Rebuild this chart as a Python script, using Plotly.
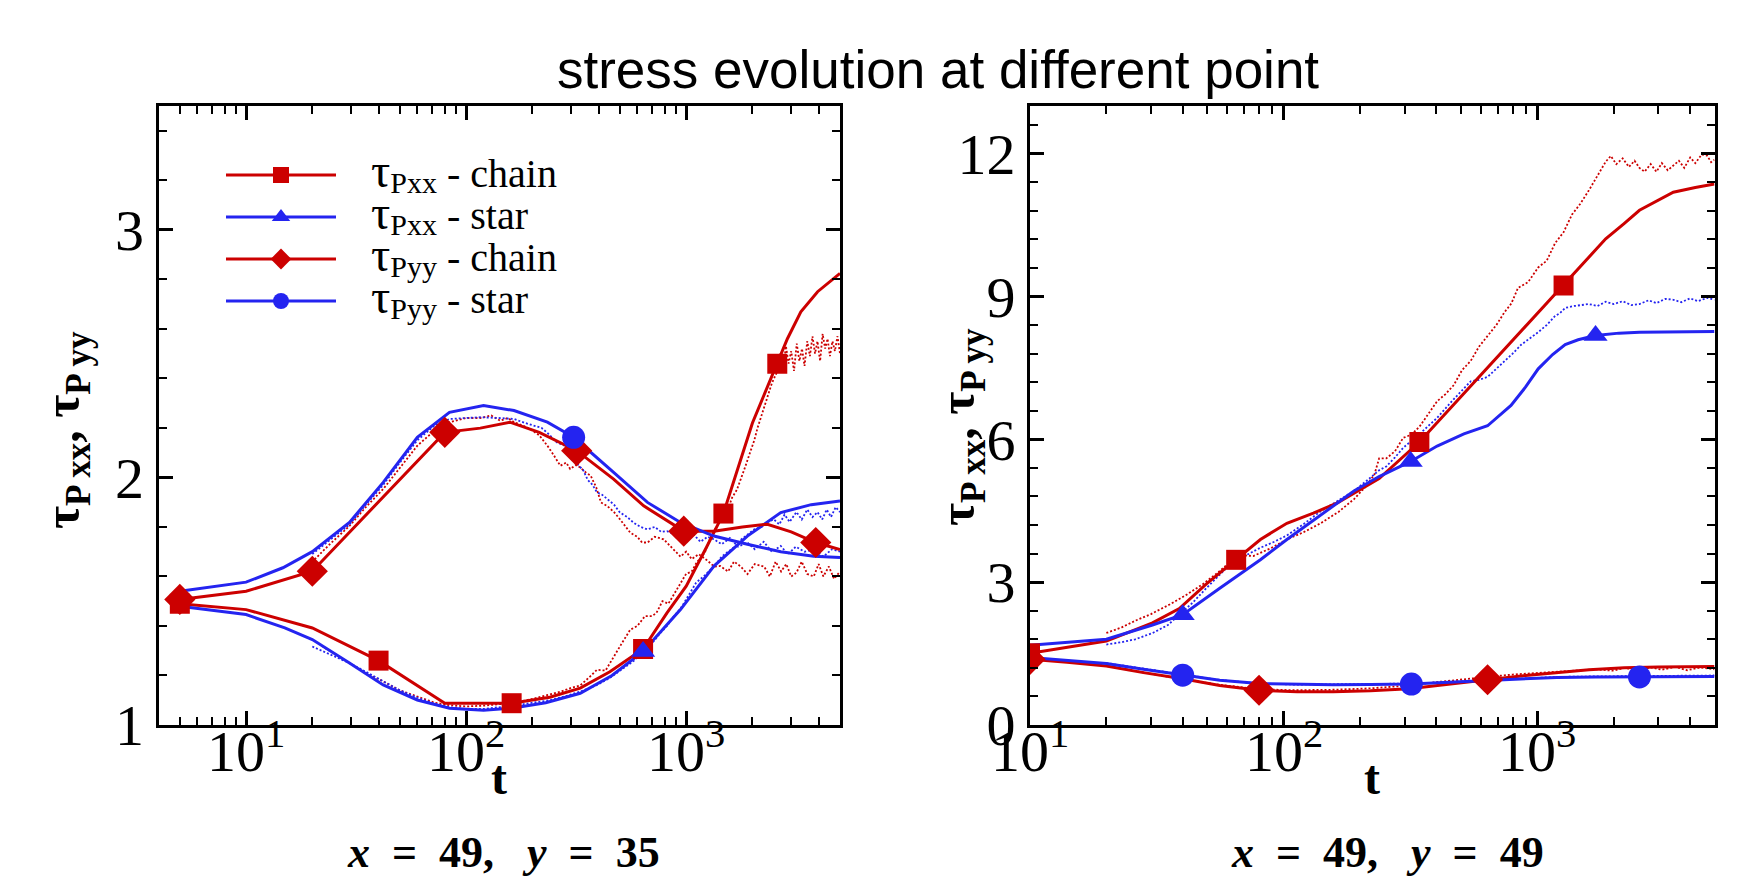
import numpy as np
import plotly.graph_objects as go

W, H = 1740, 877
RED = "#cc0000"
BLUE = "#2424f0"
SERIF = "Liberation Serif"
SANS = "Liberation Sans"

# ---------------- Left panel (x = 49, y = 35) ----------------
# solid curves
L_T_XX_CHAIN = [5, 10, 20, 40, 80, 161, 240, 330, 450, 637, 818, 1000, 1245, 1476, 2000, 2594, 2884, 3319, 3955, 5000]
L_Y_XX_CHAIN = [1.49, 1.466, 1.392, 1.26, 1.088, 1.088, 1.112, 1.149, 1.215, 1.307, 1.453, 1.561, 1.723, 1.854, 2.22, 2.459, 2.56, 2.669, 2.75, 2.824]
L_M_XX_CHAIN = [5, 40, 161, 637, 1476, 2594]

L_T_XX_STAR = [5, 10, 15, 20, 29.5, 42, 60, 84, 120, 161, 230, 330, 460, 637, 942, 1337, 1897, 2690, 3700, 5000]
L_Y_XX_STAR = [1.48, 1.446, 1.392, 1.345, 1.25, 1.162, 1.101, 1.068, 1.06, 1.068, 1.09, 1.128, 1.20, 1.297, 1.466, 1.642, 1.763, 1.858, 1.89, 1.905]
L_M_XX_STAR = [637]

L_T_YY_CHAIN = [5, 10, 20, 80, 116, 158, 215, 318, 468, 641, 975, 1337, 1800, 2340, 3000, 3880, 5000]
L_Y_YY_CHAIN = [1.507, 1.54, 1.621, 2.182, 2.199, 2.223, 2.182, 2.108, 1.993, 1.885, 1.783, 1.783, 1.80, 1.811, 1.78, 1.737, 1.709]
L_M_YY_CHAIN = [5, 20, 80, 318, 975, 3880]

L_T_YY_STAR = [5, 10, 14.7, 20, 29.5, 42, 60, 84, 120, 165, 234, 308, 468, 667, 942, 1337, 1897, 2690, 3800, 5000]
L_Y_YY_STAR = [1.54, 1.577, 1.635, 1.70, 1.818, 1.98, 2.162, 2.263, 2.29, 2.27, 2.223, 2.162, 2.02, 1.899, 1.818, 1.763, 1.73, 1.70, 1.682, 1.676]
L_M_YY_STAR = [308]

# dotted (noisy) curves
LD_T_XX_CHAIN = [22, 26, 30, 35, 42, 50, 60, 72, 84, 100, 120, 145, 165, 200, 234, 270, 300, 330, 360, 393,
                 430, 470, 510, 557, 600, 650, 700, 733, 780, 830, 889, 940, 1000, 1060, 1120, 1156, 1220, 1280,
                 1350, 1420, 1480, 1543, 1620, 1700, 1770, 1850, 1950, 2040, 2110, 2200, 2340, 2450,
                 2600, 2680, 2760, 2840, 2920, 3000, 3090, 3180, 3270, 3360, 3450, 3550, 3650, 3750, 3850,
                 3950, 4060, 4170, 4280, 4390, 4500, 4620, 4740, 4870, 5000]
LD_Y_XX_CHAIN = [1.32, 1.28, 1.245, 1.21, 1.176, 1.14, 1.115, 1.09, 1.08, 1.075, 1.078, 1.085, 1.09, 1.105, 1.12,
                 1.135, 1.15, 1.16, 1.19, 1.223, 1.22, 1.28, 1.33, 1.385, 1.40, 1.44, 1.44, 1.453, 1.50, 1.49,
                 1.534, 1.57, 1.611, 1.62, 1.66, 1.669, 1.70, 1.75, 1.79, 1.82, 1.85, 1.87, 1.92, 1.95, 1.99,
                 2.04, 2.10, 2.15, 2.20, 2.25, 2.33, 2.38,
                 2.43, 2.50, 2.44, 2.53, 2.46, 2.51, 2.43, 2.54, 2.47, 2.52, 2.45, 2.55, 2.49, 2.57, 2.50,
                 2.55, 2.47, 2.58, 2.52, 2.56, 2.49, 2.55, 2.51, 2.57, 2.50]

LD_T_XX_STAR = [20, 24, 29.5, 35, 42, 50, 60, 72, 84, 100, 120, 140, 165, 200, 240, 280, 330, 390, 450, 520,
                580, 637, 700, 760, 818, 880, 942, 1020, 1110, 1200, 1337, 1450, 1560, 1660, 1780, 1900, 2040,
                2200, 2350, 2506, 2650, 2800, 2950, 3170, 3350, 3550, 3750, 3950, 4150, 4350, 4550, 4780, 5000]
LD_Y_XX_STAR = [1.317, 1.285, 1.25, 1.215, 1.176, 1.14, 1.11, 1.085, 1.072, 1.065, 1.065, 1.07, 1.078, 1.09, 1.10,
                1.115, 1.135, 1.16, 1.19, 1.23, 1.26, 1.30, 1.33, 1.37, 1.40, 1.44, 1.47, 1.52, 1.575, 1.60,
                1.64, 1.68, 1.70, 1.72, 1.75, 1.77, 1.79, 1.80, 1.82, 1.83, 1.81, 1.85, 1.82, 1.86, 1.83,
                1.87, 1.84, 1.86, 1.83, 1.87, 1.84, 1.88, 1.86]

LD_T_YY_CHAIN = [20.5, 24, 29.5, 35, 42, 50, 60, 72, 84, 100, 116, 130, 143, 155, 165, 180, 195, 215, 234, 250,
                 268, 285, 297, 315, 330, 350, 368, 390, 410, 437, 470, 500, 530, 557, 600, 630, 667, 720, 790,
                 850, 942, 1000, 1060, 1140, 1245, 1340, 1428, 1550, 1650, 1770, 1900, 2050, 2260, 2400, 2550,
                 2700, 2850, 3000, 3170, 3350, 3550, 3800, 4000, 4200, 4450, 4700, 5000]
LD_Y_YY_CHAIN = [1.669, 1.73, 1.804, 1.88, 1.953, 2.04, 2.128, 2.19, 2.223, 2.24, 2.24, 2.25, 2.229, 2.24, 2.223,
                 2.21, 2.196, 2.17, 2.128, 2.09, 2.047, 2.06, 2.034, 2.05, 2.04, 2.02, 2.007, 1.96, 1.899, 1.885,
                 1.86, 1.831, 1.80, 1.777, 1.76, 1.737, 1.737, 1.76, 1.75, 1.72, 1.68, 1.70, 1.67, 1.69, 1.665,
                 1.64, 1.642, 1.62, 1.66, 1.64, 1.61, 1.65, 1.64, 1.60, 1.66, 1.62, 1.65, 1.60, 1.615, 1.66,
                 1.61, 1.60, 1.65, 1.60, 1.64, 1.59, 1.62]

LD_T_YY_STAR = [20, 24, 29.5, 35, 42, 50, 60, 72, 84, 100, 116, 140, 165, 185, 203, 220, 234, 258, 280, 315,
                340, 357, 375, 393, 415, 437, 470, 500, 540, 575, 620, 667, 720, 770, 818, 880, 940, 1000, 1080,
                1160, 1250, 1337, 1450, 1580, 1720, 1897, 2050, 2250, 2450, 2690, 2900, 3150, 3450, 3800, 4200,
                4600, 5000]
LD_Y_YY_STAR = [1.69, 1.745, 1.81, 1.89, 1.97, 2.06, 2.15, 2.21, 2.236, 2.24, 2.243, 2.24, 2.236, 2.22, 2.209,
                2.20, 2.18, 2.142, 2.128, 2.06, 2.03, 1.99, 1.97, 1.94, 1.93, 1.913, 1.89, 1.858, 1.84, 1.818,
                1.80, 1.79, 1.80, 1.78, 1.783, 1.77, 1.79, 1.763, 1.77, 1.74, 1.76, 1.75, 1.73, 1.755, 1.72,
                1.737, 1.71, 1.74, 1.70, 1.723, 1.69, 1.72, 1.70, 1.709, 1.68, 1.71, 1.70]

# ---------------- Right panel (x = 49, y = 49) ----------------
R_T_XX_CHAIN = [10, 20, 30.4, 38.8, 49.5, 65, 81, 103, 131, 163, 238, 343, 547, 866, 1270, 1600, 1862, 2200, 2530, 3440, 4200, 5000]
R_Y_XX_CHAIN = [1.506, 1.762, 2.146, 2.445, 2.957, 3.469, 3.896, 4.237, 4.45, 4.663, 5.175, 5.943, 7.115, 8.27, 9.23, 9.81, 10.21, 10.53, 10.81, 11.19, 11.29, 11.36]
R_M_XX_CHAIN = [10, 65, 343, 1270]

R_T_XX_STAR = [10, 20, 30.4, 40, 56, 81, 103, 140, 190, 238, 317, 403, 514, 637, 788, 900, 1009, 1150, 1289, 1450, 1698, 2100, 2530, 5000]
R_Y_XX_STAR = [1.677, 1.80, 2.10, 2.317, 2.87, 3.47, 3.896, 4.407, 4.919, 5.218, 5.535, 5.858, 6.113, 6.284, 6.71, 7.1, 7.48, 7.78, 7.99, 8.09, 8.18, 8.23, 8.247, 8.264]
R_M_XX_STAR = [40, 317, 1698]

R_T_YY_CHAIN = [10, 14, 20, 28, 40, 56, 80, 113, 157, 220, 313, 450, 637, 900, 1196, 1600, 2203, 3000, 5000]
R_Y_YY_CHAIN = [1.38, 1.32, 1.24, 1.10, 0.97, 0.83, 0.73, 0.70, 0.70, 0.72, 0.76, 0.85, 0.95, 1.04, 1.10, 1.16, 1.20, 1.22, 1.23]
R_M_YY_CHAIN = [10, 80, 637]

R_T_YY_STAR = [10, 14, 20, 28, 40, 56, 80, 113, 157, 220, 319, 450, 637, 900, 1196, 1700, 2530, 5000]
R_Y_YY_STAR = [1.42, 1.36, 1.29, 1.17, 1.045, 0.94, 0.87, 0.85, 0.845, 0.85, 0.86, 0.90, 0.94, 0.98, 1.00, 1.01, 1.01, 1.02]
R_M_YY_STAR = [40, 319, 2530]

RD_T_XX_CHAIN = [20, 23, 26, 30, 35.5, 41, 48, 55, 63, 70, 76, 88, 103, 120, 140, 165, 190, 210, 228, 238, 254,
                 275, 296, 320, 345, 375, 403, 435, 469, 505, 547, 590, 637, 690, 743, 790, 840, 920, 1009, 1090,
                 1176, 1270, 1371, 1480, 1599, 1730, 1862, 1950, 2050, 2172, 2300, 2420, 2530, 2650, 2800, 2951,
                 3100, 3270, 3440, 3620, 3800, 4010, 4200, 4450, 4673, 4850, 5000]
RD_Y_XX_CHAIN = [1.933, 2.05, 2.19, 2.33, 2.53, 2.72, 2.957, 3.2, 3.47, 3.56, 3.55, 3.70, 3.896, 4.05, 4.237, 4.48,
                 4.749, 5.0, 5.26, 5.60, 5.60, 5.75, 6.03, 6.10, 6.28, 6.55, 6.80, 6.95, 7.14, 7.45, 7.65, 7.95,
                 8.16, 8.40, 8.67, 8.85, 9.18, 9.30, 9.61, 9.75, 10.12, 10.35, 10.72, 10.95, 11.23, 11.55, 11.83,
                 11.95, 11.78, 11.9, 11.72, 11.85, 11.70, 11.62, 11.78, 11.62, 11.80, 11.65, 11.75, 11.85, 11.70,
                 11.92, 11.80, 11.98, 11.96, 11.82, 11.87]

RD_T_XX_STAR = [20, 23, 26, 30.4, 35, 38.8, 44, 49.5, 56, 63, 72, 80.8, 92, 103, 120, 140, 165, 190, 215, 238,
                254, 275, 296, 345, 403, 470, 547, 590, 637, 690, 743, 800, 866, 940, 1009, 1090, 1176, 1230,
                1289, 1400, 1599, 1730, 1862, 2000, 2172, 2350, 2530, 2750, 2951, 3200, 3440, 3700, 4010, 4300,
                4673, 5000]
RD_Y_XX_STAR = [1.69, 1.74, 1.80, 1.93, 2.10, 2.32, 2.58, 2.87, 3.15, 3.43, 3.58, 3.72, 3.85, 3.98, 4.22, 4.49,
                4.72, 4.92, 5.15, 5.35, 5.43, 5.62, 5.82, 6.12, 6.45, 6.85, 7.22, 7.25, 7.31, 7.48, 7.65, 7.80,
                7.99, 8.12, 8.25, 8.40, 8.59, 8.65, 8.76, 8.80, 8.84, 8.80, 8.89, 8.84, 8.90, 8.82, 8.84, 8.92,
                8.86, 8.95, 8.93, 8.88, 8.96, 8.90, 8.97, 8.93]

RD_T_YY_CHAIN = [20, 30, 40, 55, 80, 110, 157, 220, 313, 400, 500, 637, 800, 1000, 1196, 1400, 1700, 2000, 2203,
                 2500, 2800, 3100, 3500, 3900, 4400, 5000]
RD_Y_YY_CHAIN = [1.24, 1.07, 0.96, 0.85, 0.75, 0.73, 0.74, 0.77, 0.83, 0.90, 0.96, 1.01, 1.06, 1.09, 1.12, 1.13,
                 1.17, 1.14, 1.20, 1.15, 1.21, 1.16, 1.22, 1.15, 1.21, 1.17]

RD_T_YY_STAR = [20, 30, 40, 55, 80, 110, 157, 220, 319, 450, 637, 900, 1196, 1700, 2530, 3500, 5000]
RD_Y_YY_STAR = [1.30, 1.16, 1.06, 0.95, 0.87, 0.85, 0.855, 0.86, 0.87, 0.90, 0.94, 0.98, 1.01, 1.02, 1.03, 1.03, 1.04]

# ---------------- axis ticks / labels ----------------
X_MAJOR = [10, 100, 1000]
X_MAJOR_TEXT = ["10<sup>1</sup>", "10<sup>2</sup>", "10<sup>3</sup>"]
X_MINOR_LEFT = [5, 6, 7, 8, 9, 20, 30, 40, 50, 60, 70, 80, 90, 200, 300, 400, 500, 600, 700, 800, 900, 2000, 3000, 4000]
X_MINOR_RIGHT = [20, 30, 40, 50, 60, 70, 80, 90, 200, 300, 400, 500, 600, 700, 800, 900, 2000, 3000, 4000]
L_Y_MAJOR = [1, 2, 3]
R_Y_MAJOR = [0, 3, 6, 9, 12]

NB = "\u00a0"


def legend_label(sub, kind):
    return (NB * 4 + '<span style="font-size:48px">τ</span>'
            + '<sub><span style="font-size:30px">' + sub + '</span></sub>'
            + '<span style="font-size:40px"> - ' + kind + '</span>')


LEGEND_NAMES = [legend_label("Pxx", "chain"), legend_label("Pxx", "star"),
                legend_label("Pyy", "chain"), legend_label("Pyy", "star")]
STYLE = [
    dict(color=RED, symbol="square", size=20),
    dict(color=BLUE, symbol="triangle-up", size=21),
    dict(color=RED, symbol="diamond", size=24),
    dict(color=BLUE, symbol="circle", size=23),
]

LEFT = dict(
    solid=[(L_T_XX_CHAIN, L_Y_XX_CHAIN, L_M_XX_CHAIN), (L_T_XX_STAR, L_Y_XX_STAR, L_M_XX_STAR),
           (L_T_YY_CHAIN, L_Y_YY_CHAIN, L_M_YY_CHAIN), (L_T_YY_STAR, L_Y_YY_STAR, L_M_YY_STAR)],
    dotted=[(LD_T_XX_CHAIN, LD_Y_XX_CHAIN), (LD_T_XX_STAR, LD_Y_XX_STAR),
            (LD_T_YY_CHAIN, LD_Y_YY_CHAIN), (LD_T_YY_STAR, LD_Y_YY_STAR)],
)
RIGHT = dict(
    solid=[(R_T_XX_CHAIN, R_Y_XX_CHAIN, R_M_XX_CHAIN), (R_T_XX_STAR, R_Y_XX_STAR, R_M_XX_STAR),
           (R_T_YY_CHAIN, R_Y_YY_CHAIN, R_M_YY_CHAIN), (R_T_YY_STAR, R_Y_YY_STAR, R_M_YY_STAR)],
    dotted=[(RD_T_XX_CHAIN, RD_Y_XX_CHAIN), (RD_T_XX_STAR, RD_Y_XX_STAR),
            (RD_T_YY_CHAIN, RD_Y_YY_CHAIN), (RD_T_YY_STAR, RD_Y_YY_STAR)],
)

fig = go.Figure()


def add_panel(panel, xa, ya):
    for (t, y), st in zip(panel["dotted"], STYLE):
        assert len(t) == len(y)
        fig.add_trace(go.Scatter(x=t, y=y, mode="lines", xaxis=xa, yaxis=ya, showlegend=False,
                                 line=dict(color=st["color"], width=1.8, dash="2px,2px"), hoverinfo="skip"))
    for (t, y, m), st in zip(panel["solid"], STYLE):
        assert len(t) == len(y)
        fig.add_trace(go.Scatter(x=t, y=y, mode="lines", xaxis=xa, yaxis=ya, showlegend=False,
                                 line=dict(color=st["color"], width=3), hoverinfo="skip"))
    for (t, y, m), st in zip(panel["solid"], STYLE):
        lookup = dict(zip(t, y))
        fig.add_trace(go.Scatter(x=m, y=[lookup[v] for v in m], mode="markers", xaxis=xa, yaxis=ya,
                                 showlegend=False, hoverinfo="skip",
                                 marker=dict(color=st["color"], symbol=st["symbol"], size=st["size"],
                                             line=dict(width=0))))


add_panel(LEFT, "x", "y")
add_panel(RIGHT, "x2", "y2")

# legend entries
for name, st in zip(LEGEND_NAMES, STYLE):
    fig.add_trace(go.Scatter(x=[None], y=[None], mode="lines+markers", name=name, xaxis="x", yaxis="y",
                             line=dict(color=st["color"], width=3),
                             marker=dict(color=st["color"], symbol=st["symbol"], size=st["size"])))

# layout geometry (pixels -> paper)
PL = dict(x0=158.5, x1=840.0)
PR = dict(x0=1030.0, x1=1714.5)
Y_TOP, Y_BOT = 106.0, 725.0
ydom = [1 - Y_BOT / H, 1 - Y_TOP / H]
TICK_FONT = dict(family=SERIF, size=58, color="black")

axis_common = dict(showline=True, linecolor="black", linewidth=3, mirror="allticks", ticks="inside",
                   ticklen=14, tickwidth=3, tickcolor="black", showgrid=False, zeroline=False, automargin=False,
                   tickfont=TICK_FONT)
minor_common = dict(ticks="inside", ticklen=8, tickwidth=1.5, tickcolor="black", showgrid=False)

fig.update_layout(
    width=W, height=H, margin=dict(l=0, r=0, t=0, b=0, autoexpand=False),
    paper_bgcolor="white", plot_bgcolor="white",
    xaxis=dict(axis_common, type="log", range=[np.log10(4), np.log10(5000)], domain=[PL["x0"] / W, PL["x1"] / W],
               tickmode="array", tickvals=X_MAJOR, ticktext=X_MAJOR_TEXT, showticklabels=False, anchor="y",
               minor=dict(minor_common, tickmode="array", tickvals=X_MINOR_LEFT)),
    yaxis=dict(axis_common, range=[1, 3.5], domain=ydom, tickmode="array", tickvals=L_Y_MAJOR, anchor="x",
               ticklabelstandoff=0, minor=dict(minor_common, tickmode="linear", tick0=1, dtick=0.2)),
    xaxis2=dict(axis_common, type="log", range=[1, np.log10(5000)], domain=[PR["x0"] / W, PR["x1"] / W],
                tickmode="array", tickvals=X_MAJOR, ticktext=X_MAJOR_TEXT, showticklabels=False, anchor="y2",
                minor=dict(minor_common, tickmode="array", tickvals=X_MINOR_RIGHT)),
    yaxis2=dict(axis_common, range=[0, 13], domain=ydom, tickmode="array", tickvals=R_Y_MAJOR, anchor="x2",
                ticklabelstandoff=0, minor=dict(minor_common, tickmode="linear", tick0=0, dtick=0.6)),
    showlegend=True,
    legend=dict(x=221 / W, y=1 - 149 / H, xanchor="left", yanchor="top",
                font=dict(family=SERIF, size=30, color="black"), bgcolor="rgba(0,0,0,0)",
                itemwidth=110, tracegroupgap=0, traceorder="normal"),
)

ann = []
# x tick labels (log axes: annotation x in log10 units)
for xref in ["x", "x2"]:
    for v, txt in zip(X_MAJOR, X_MAJOR_TEXT):
        ann.append(dict(text=txt, x=np.log10(v), xref=xref, y=ydom[0], yref="paper", yanchor="top",
                        xanchor="center", yshift=15, showarrow=False, font=TICK_FONT, borderpad=0))
ann.append(dict(text="stress evolution at different point", x=938 / W, y=1 - 69 / H, xref="paper", yref="paper",
                showarrow=False, xanchor="center", yanchor="middle",
                font=dict(family=SANS, size=53, color="black")))
for cx in [(PL["x0"] + PL["x1"]) / 2, (PR["x0"] + PR["x1"]) / 2]:
    ann.append(dict(text="<b>t</b>", x=cx / W, y=1 - 777 / H, xref="paper", yref="paper", showarrow=False,
                    xanchor="center", yanchor="middle", font=dict(family=SERIF, size=48, color="black")))
YTITLE = "<b>τ<sub>P xx</sub>, τ<sub>P yy</sub></b>"
for cx, cy in [(66, 430), (961, 427)]:
    ann.append(dict(text=YTITLE, x=cx / W, y=1 - cy / H, xref="paper", yref="paper", showarrow=False,
                    textangle=-90, xanchor="center", yanchor="middle",
                    font=dict(family=SERIF, size=50, color="black")))
for cx, lab in [(503, "35"), (1387, "49")]:
    txt = f"<b><i>x</i>{NB * 2}={NB * 2}49,{NB * 3}<i>y</i>{NB * 2}={NB * 2}{lab}</b>"
    ann.append(dict(text=txt, x=cx / W, y=1 - 852 / H, xref="paper", yref="paper", showarrow=False,
                    xanchor="center", yanchor="middle", font=dict(family=SERIF, size=44, color="black")))
fig.update_layout(annotations=ann)

fig.write_html("out.html", include_plotlyjs=True, config={"displayModeBar": False})
